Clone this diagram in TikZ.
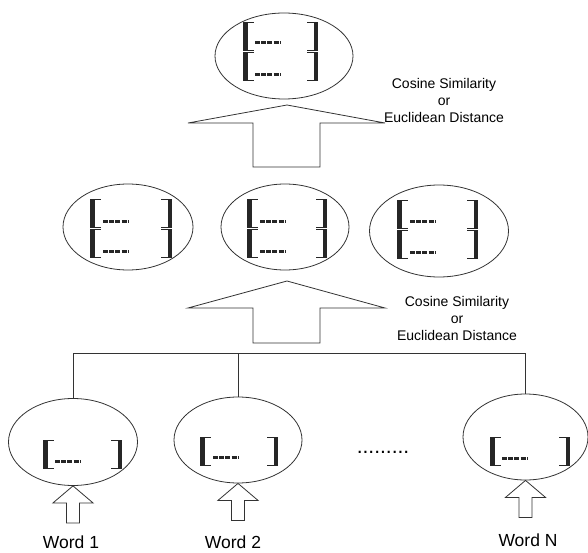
\documentclass[tikz,border=0pt]{standalone}
\usepackage{fontspec}
\setmainfont{Liberation Sans}
\usetikzlibrary{shapes.geometric}
\begin{document}
\begin{tikzpicture}[x=1pt,y=-1pt,
  ink/.style={draw=black!80,line width=0.8pt},
  cell/.style={ellipse,draw=black!80,line width=0.8pt,inner sep=0pt},
  lbl/.style={align=center,inner sep=0pt,font=\fontsize{14}{17}\selectfont},
  wordlbl/.style={inner sep=0pt,font=\fontsize{17.5}{20}\selectfont},
  lbr/.pic={
    \fill[black!85] (0,0) rectangle (4.5,29);
    \draw[black!85,line width=1pt] (0,0.5) -- (11,0.5) (0,28.5) -- (11,28.5);
  },
  rbr/.pic={
    \fill[black!85] (0,0) rectangle (-4.5,29);
    \draw[black!85,line width=1pt] (0,0.5) -- (-11,0.5) (0,28.5) -- (-11,28.5);
  },
  dsh/.pic={
    \draw[black!85,line width=3pt,dash pattern=on 5pt off 1.2pt] (0,0) -- (26,0);
  },
  uparr/.pic={
    \draw[black!80,line width=0.8pt] (0,0) -- (20,17) -- (6.5,17) -- (6.5,37)
      -- (-6.5,37) -- (-6.5,17) -- (-20,17) -- cycle;
  }
]
\useasboundingbox (0,0) rectangle (588,553);

% ---- top cell: two stacked sub-vectors
\node[cell,minimum width=138pt,minimum height=86pt] (top) at (284,56) {};
\pic at (243,22) {lbr}; \pic at (243,52) {lbr};
\pic at (318,22) {rbr}; \pic at (318,52) {rbr};
\pic at (255,43) {dsh}; \pic at (255,75) {dsh};

% ---- middle row of cells
\node[cell,minimum width=130pt,minimum height=86pt] (m1) at (128,227) {};
\pic at (90,199) {lbr}; \pic at (90,229) {lbr};
\pic at (172,199) {rbr}; \pic at (172,229) {rbr};
\pic at (103,221) {dsh}; \pic at (103,251) {dsh};

\node[cell,minimum width=128pt,minimum height=86pt] (m2) at (285,227) {};
\pic at (247,199) {lbr}; \pic at (247,229) {lbr};
\pic at (327,199) {rbr}; \pic at (327,229) {rbr};
\pic at (260,221) {dsh}; \pic at (260,251) {dsh};

\node[cell,minimum width=139pt,minimum height=92pt] (m3) at (439,231) {};
\pic at (397,200) {lbr}; \pic at (397,230) {lbr};
\pic at (478,200) {rbr}; \pic at (478,230) {rbr};
\pic at (410,221) {dsh}; \pic at (410,252) {dsh};

% ---- word cells
\node[cell,minimum width=129pt,minimum height=87pt] (w1) at (73,442) {};
\pic at (43,440) {lbr}; \pic at (122,440) {rbr}; \pic at (55,461) {dsh};

\node[cell,minimum width=128pt,minimum height=86pt] (w2) at (238,440) {};
\pic at (200,437) {lbr}; \pic at (278,437) {rbr}; \pic at (213,457) {dsh};

\node[cell,minimum width=125pt,minimum height=86pt] (wn) at (525.5,437) {};
\pic at (490,437) {lbr}; \pic at (570,437) {rbr}; \pic at (502,458) {dsh};

\node[inner sep=0pt,font=\fontsize{21}{21}\selectfont] (dots) at (383,452) {.........};

% ---- big arrows
\draw[ink] (287,105) -- (385,123) -- (320,123) -- (320,167) -- (253,167)
  -- (253,123) -- (188,123) -- cycle;
\draw[ink] (287,281) -- (385,308) -- (320,308) -- (320,343) -- (253,343)
  -- (253,308) -- (188,308) -- cycle;

% ---- bus joining the word cells
\coordinate (bus) at (0,353);
\draw[ink] (w1.north) -- (w1.north |- bus) -- (wn.north |- bus) -- (wn.north);
\draw[ink] (w2.north) -- (w2.north |- bus);

% ---- input arrows and words
\pic at (w1.south) {uparr};
\pic at (w2.south) {uparr};
\pic at (wn.south) {uparr};
\node[wordlbl] (l1) at (71,542) {Word 1};
\node[wordlbl] (l2) at (233,542) {Word 2};
\node[wordlbl] (ln) at (528,540) {Word N};

% ---- similarity labels
\node[lbl] (s1) at (444,100) {Cosine Similarity\\or\\Euclidean Distance};
\node[lbl] (s2) at (457,318) {Cosine Similarity\\or\\Euclidean Distance};
\end{tikzpicture}
\end{document}
